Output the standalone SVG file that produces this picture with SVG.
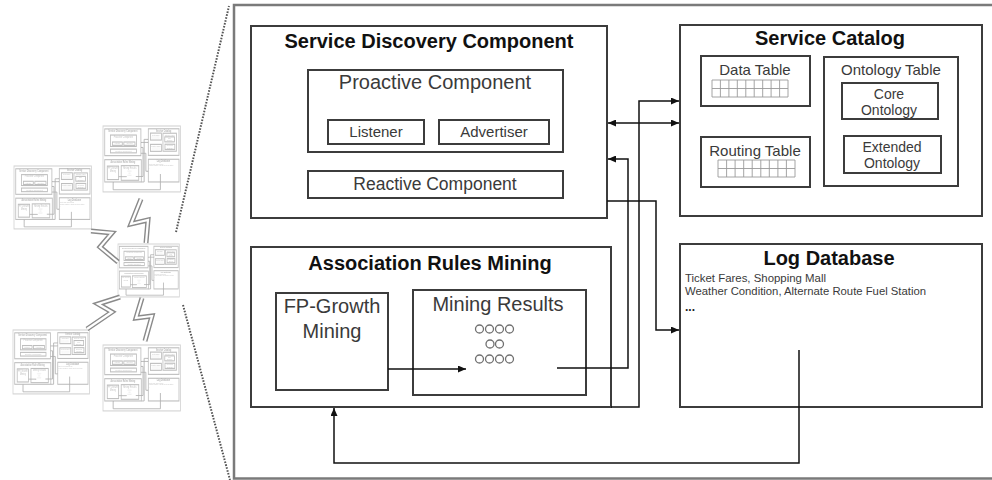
<svg xmlns="http://www.w3.org/2000/svg" xmlns:xlink="http://www.w3.org/1999/xlink" width="992" height="480" viewBox="0 0 992 480">
<style>
text{font-family:"Liberation Sans",Arial,sans-serif;}
.title{font-weight:bold;font-size:20px;fill:#111;text-anchor:middle;}
.lbl{fill:#3a3a3a;text-anchor:middle;}
.box{fill:none;stroke:#3c3c3c;stroke-width:var(--bw,2);}
.frame{fill:none;stroke:#7a7a7a;stroke-width:var(--fw,2.5);}
.conn{fill:none;stroke:#111;stroke-width:var(--cw,1.5);}
.grid{fill:none;stroke:#9a9a9a;stroke-width:0.9;}
.ring{fill:none;stroke:#707070;stroke-width:1.3;}
.dots{fill:none;stroke:#555;stroke-width:2;stroke-dasharray:1.6 1.4;}
.boltO{fill:none;stroke:#8a8a8a;stroke-width:5;stroke-linejoin:miter;}
.boltI{fill:none;stroke:#fff;stroke-width:2.2;stroke-linejoin:miter;}
</style>
<defs>
<marker id="ah" markerUnits="userSpaceOnUse" markerWidth="8" markerHeight="7" refX="8" refY="3.5" orient="auto-start-reverse" viewBox="0 0 8 7"><path d="M0,0 L8,3.5 L0,7 z" fill="#111"/></marker>
</defs>
<rect width="992" height="480" fill="#fff"/>

<g id="diag">
  <rect id="frame" class="frame" x="234" y="5" width="762" height="473.5"/>

  <g id="sdc">
    <rect class="box" x="251" y="26" width="356" height="192"/>
    <text class="title" x="429" y="48">Service Discovery Component</text>
  </g>
  <g id="proactive">
    <rect class="box" x="308" y="70" width="255" height="82"/>
    <text class="lbl" x="435" y="89" font-size="20">Proactive Component</text>
  </g>
  <g id="listener">
    <rect class="box" x="328" y="120" width="96" height="24"/>
    <text class="lbl" x="376" y="137" font-size="15">Listener</text>
  </g>
  <g id="advertiser">
    <rect class="box" x="439" y="120" width="110" height="24"/>
    <text class="lbl" x="494" y="137" font-size="15">Advertiser</text>
  </g>
  <g id="reactive">
    <rect class="box" x="308" y="171" width="255" height="27"/>
    <text class="lbl" x="435" y="190" font-size="17.5">Reactive Component</text>
  </g>

  <g id="catalog">
    <rect class="box" x="680" y="25" width="302" height="191"/>
    <text class="title" x="830" y="45">Service Catalog</text>
  </g>
  <g id="datatable">
    <rect class="box" x="701" y="56" width="109" height="50"/>
    <text class="lbl" x="755" y="75" font-size="15">Data Table</text>
    <path class="grid" d="M712,80H788V97H712Z M712,88.5H788 M720.4,80V97 M728.9,80V97 M737.3,80V97 M745.8,80V97 M754.2,80V97 M762.7,80V97 M771.1,80V97 M779.6,80V97"/>
  </g>
  <g id="routingtable">
    <rect class="box" x="701" y="137" width="109" height="50"/>
    <text class="lbl" x="755" y="156" font-size="15">Routing Table</text>
    <path class="grid" d="M718,160H795V177H718Z M718,168.5H795 M726.6,160V177 M735.1,160V177 M743.7,160V177 M752.2,160V177 M760.8,160V177 M769.3,160V177 M777.9,160V177 M786.4,160V177"/>
  </g>
  <g id="ontologytable">
    <rect class="box" x="824" y="57" width="134" height="129"/>
    <text class="lbl" x="891" y="75" font-size="15">Ontology Table</text>
  </g>
  <g id="coreontology">
    <rect class="box" x="842" y="83" width="96" height="36"/>
    <text class="lbl" x="889" y="99" font-size="14">Core</text>
    <text class="lbl" x="889" y="115" font-size="14">Ontology</text>
  </g>
  <g id="extendedontology">
    <rect class="box" x="844" y="136" width="97" height="37"/>
    <text class="lbl" x="892" y="152" font-size="14">Extended</text>
    <text class="lbl" x="892" y="168" font-size="14">Ontology</text>
  </g>

  <g id="arm">
    <rect class="box" x="251" y="247" width="360" height="160"/>
    <text class="title" x="430" y="270">Association Rules Mining</text>
  </g>
  <g id="fpgrowth">
    <rect class="box" x="276" y="293" width="112" height="97"/>
    <text class="lbl" x="332" y="313" font-size="20">FP-Growth</text>
    <text class="lbl" x="332" y="338" font-size="20">Mining</text>
  </g>
  <g id="miningresults">
    <rect class="box" x="413" y="290" width="173" height="105"/>
    <text class="lbl" x="498" y="311" font-size="20">Mining Results</text>
    <circle class="ring" cx="479.5" cy="329" r="4"/><circle class="ring" cx="489.5" cy="329" r="4"/><circle class="ring" cx="499.5" cy="329" r="4"/><circle class="ring" cx="509.5" cy="329" r="4"/>
    <circle class="ring" cx="490" cy="344" r="4"/><circle class="ring" cx="499.5" cy="344" r="4"/>
    <circle class="ring" cx="479.5" cy="359" r="4"/><circle class="ring" cx="489.5" cy="359" r="4"/><circle class="ring" cx="499.5" cy="359" r="4"/><circle class="ring" cx="509.5" cy="359" r="4"/>
  </g>

  <g id="logdb">
    <rect class="box" x="680" y="244" width="302" height="163"/>
    <text class="title" x="829" y="265">Log Database</text>
    <text x="685" y="282" font-size="11" fill="#3a3a3a" textLength="141" lengthAdjust="spacingAndGlyphs">Ticket Fares, Shopping Mall</text>
    <text x="685" y="295" font-size="11" fill="#3a3a3a" textLength="241" lengthAdjust="spacingAndGlyphs">Weather Condition, Alternate Route Fuel Station</text>
    <text x="685" y="311" font-size="12" font-weight="bold" fill="#222">...</text>
  </g>

  <g id="connectors">
    <path class="conn" d="M611,407 H639 V101 H679" marker-end="url(#ah)"/>
    <path class="conn" d="M608,123 H679" marker-start="url(#ah)" marker-end="url(#ah)"/>
    <path class="conn" d="M557,368 H628 V159 H608" marker-end="url(#ah)"/>
    <path class="conn" d="M607,201 H656 V330 H679" marker-end="url(#ah)"/>
    <path class="conn" d="M388,369 H466" marker-end="url(#ah)"/>
    <path class="conn" d="M799,350 V463 H334 V408" marker-end="url(#ah)"/>
  </g>
</g>

<g id="minis" opacity="0.33">
  <use xlink:href="#diag" href="#diag" style="--bw:8;--cw:7;--fw:8" transform="translate(103,126) scale(0.1016,0.1392) translate(-234,-5)"/>
  <use xlink:href="#diag" href="#diag" style="--bw:8;--cw:7;--fw:8" transform="translate(14,166) scale(0.1016,0.1329) translate(-234,-5)"/>
  <use xlink:href="#diag" href="#diag" style="--bw:9;--cw:8;--fw:9" transform="translate(118,244) scale(0.0805,0.1118) translate(-234,-5)"/>
  <use xlink:href="#diag" href="#diag" style="--bw:8;--cw:7;--fw:8" transform="translate(13,330) scale(0.1003,0.1350) translate(-234,-5)"/>
  <use xlink:href="#diag" href="#diag" style="--bw:8;--cw:7;--fw:8" transform="translate(103,345) scale(0.1016,0.1392) translate(-234,-5)"/>
</g>

<g id="bolts">
  <path class="boltO" d="M91,231 L112,233 L100,247 L118,262"/>
  <path class="boltI" d="M91,231 L112,233 L100,247 L118,262"/>
  <path class="boltO" d="M141,199 L131,224 L148,220 L146,243"/>
  <path class="boltI" d="M141,199 L131,224 L148,220 L146,243"/>
  <path class="boltO" d="M120,297 L98,304 L112,312 L87,329"/>
  <path class="boltI" d="M120,297 L98,304 L112,312 L87,329"/>
  <path class="boltO" d="M142,298 L136,318 L152,316 L145,341"/>
  <path class="boltI" d="M142,298 L136,318 L152,316 L145,341"/>
</g>

<g id="zoomlines">
  <line class="dots" x1="176" y1="232" x2="229" y2="6"/>
  <line class="dots" x1="183" y1="305" x2="230" y2="480"/>
</g>
</svg>
